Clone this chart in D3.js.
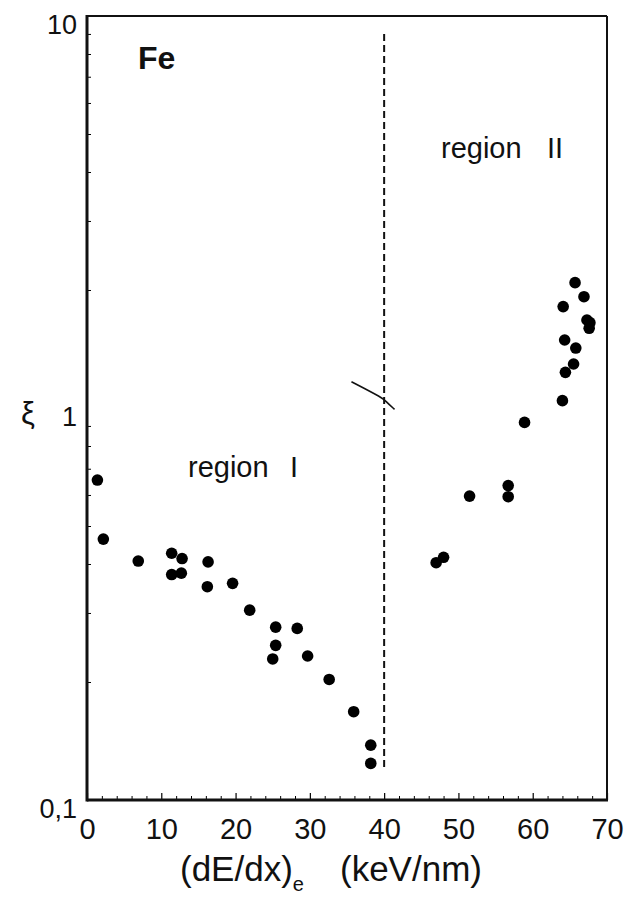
<!DOCTYPE html>
<html>
<head>
<meta charset="utf-8">
<script src="https://cdn.jsdelivr.net/npm/d3@7"></script>
<style>
  body { margin: 0; background: #fff; }
  text { font-family: "Liberation Sans", Arial, sans-serif; fill: #111; }
</style>
</head>
<body>
<script>
// values
var regionOneX = [1.4, 2.2, 6.9, 11.4, 12.8, 11.4, 12.7, 16.3, 16.2, 19.6, 21.9, 25.4, 28.3, 25.4, 25.0, 29.7, 32.6, 35.9, 38.2, 38.2];
var regionOneY = [0.655, 0.463, 0.407, 0.426, 0.413, 0.376, 0.379, 0.405, 0.350, 0.357, 0.305, 0.276, 0.274, 0.248, 0.229, 0.233, 0.203, 0.168, 0.138, 0.124];
var regionTwoX = [47.0, 48.0, 51.5, 56.7, 56.7, 58.9, 64.0, 64.4, 65.5, 64.3, 65.8, 64.1, 65.7, 66.9, 67.3, 67.7, 67.6];
var regionTwoY = [0.403, 0.416, 0.596, 0.634, 0.594, 0.919, 1.044, 1.233, 1.295, 1.491, 1.422, 1.814, 2.088, 1.923, 1.677, 1.651, 1.597];

var xTicks = [0, 10, 20, 30, 40, 50, 60, 70];
var yTicks = [0.1, 1, 10];
var yTickLabels = ["0,1", "1", "10"];

var dividerX = 40;
var dividerY = [9, 0.12];
var breakMarkX = [35.6, 39.9, 40.2, 41.4];
var breakMarkY = [1.167, 1.059, 1.04, 0.992];

var svgWidth = 629;
var svgHeight = 901;
var margin = {top: 16, right: 22, bottom: 101, left: 87};
var width = svgWidth - margin.left - margin.right;
var height = svgHeight - margin.top - margin.bottom;

var svg = d3.select("body")
  .append("svg")
  .attr("width", svgWidth)
  .attr("height", svgHeight);

var chartGroup = svg.append("g")
  .attr("transform", "translate(" + margin.left + "," + margin.top + ")");

var xScale = d3.scaleLinear().domain([0, 70]).range([0, width]);
var yScale = d3.scaleLog().domain([0.1, 10]).range([height, 0]);

// minor ticks (inside)
var xMinor = d3.range(0, 71, 2).filter(d => d % 10 != 0);
chartGroup.append("g")
  .attr("transform", `translate(0, ${height})`)
  .call(d3.axisBottom(xScale).tickValues(xMinor).tickSize(-4).tickFormat(""))
  .call(g => g.select(".domain").remove());

var yMinor = [];
[0.1, 1].forEach(function(dec) {
  for (var k = 2; k <= 9; k++) yMinor.push(dec * k);
});
chartGroup.append("g")
  .call(d3.axisLeft(yScale).tickValues(yMinor).tickSize(-4).tickFormat(""))
  .call(g => g.select(".domain").remove());

// major x axis
var xAxis = chartGroup.append("g")
  .attr("transform", `translate(0, ${height})`)
  .call(d3.axisBottom(xScale).tickValues(xTicks).tickSize(-7).tickPadding(18).tickFormat(d3.format("d")));
xAxis.select(".domain").remove();
xAxis.selectAll("text")
  .attr("font-size", "29px")
  .attr("font-family", "Liberation Sans, Arial, sans-serif")
  .attr("fill", "#111");
xAxis.selectAll("line").attr("stroke-width", 1.2);

// y axis labels
var yAxis = chartGroup.append("g")
  .call(d3.axisLeft(yScale).tickValues(yTicks).tickSize(0).tickPadding(10)
    .tickFormat((d, i) => yTickLabels[i]));
yAxis.select(".domain").remove();
yAxis.selectAll("text")
  .attr("dy", "17px")
  .attr("font-size", "27px")
  .attr("font-family", "Liberation Sans, Arial, sans-serif")
  .attr("fill", "#111");

// frame
chartGroup.append("line").attr("x1", 0).attr("x2", width).attr("y1", 0).attr("y2", 0)
  .attr("stroke", "#111").attr("stroke-width", 2);
chartGroup.append("line").attr("x1", width).attr("x2", width).attr("y1", 0).attr("y2", height)
  .attr("stroke", "#111").attr("stroke-width", 2);
chartGroup.append("line").attr("x1", 0).attr("x2", 0).attr("y1", -1).attr("y2", height + 1.5)
  .attr("stroke", "#111").attr("stroke-width", 3);
chartGroup.append("line").attr("x1", 0).attr("x2", width + 1).attr("y1", height).attr("y2", height)
  .attr("stroke", "#111").attr("stroke-width", 3);

// dashed divider
chartGroup.append("line")
  .attr("x1", xScale(dividerX)).attr("x2", xScale(dividerX))
  .attr("y1", yScale(dividerY[0])).attr("y2", yScale(dividerY[1]))
  .attr("stroke", "#111")
  .attr("stroke-width", 2)
  .attr("stroke-dasharray", "7,4");

// break mark
var markLine = d3.line()
  .x(d => xScale(d[0]))
  .y(d => yScale(d[1]))
  .curve(d3.curveBasis);
chartGroup.append("path")
  .datum(d3.zip(breakMarkX, breakMarkY))
  .attr("d", markLine)
  .attr("fill", "none")
  .attr("stroke", "#111")
  .attr("stroke-width", 1.6);

// points
var allPoints = d3.zip(regionOneX, regionOneY).concat(d3.zip(regionTwoX, regionTwoY));
chartGroup.selectAll("circle")
  .data(allPoints)
  .enter()
  .append("circle")
  .attr("cx", d => xScale(d[0]))
  .attr("cy", d => yScale(d[1]))
  .attr("r", 5.8)
  .attr("fill", "#000");

// labels
svg.append("text")
  .attr("x", 138)
  .attr("y", 69)
  .attr("font-size", "32px")
  .attr("font-weight", "bold")
  .text("Fe");

var reg1 = svg.append("text")
  .attr("y", 477)
  .attr("font-size", "29px");
reg1.append("tspan").attr("x", 188).text("region");
reg1.append("tspan").attr("x", 290).text("I");

var reg2 = svg.append("text")
  .attr("y", 158)
  .attr("font-size", "29px");
reg2.append("tspan").attr("x", 441).text("region");
reg2.append("tspan").attr("x", 547).text("II");

svg.append("text")
  .attr("x", 28)
  .attr("y", 424)
  .style("text-anchor", "middle")
  .attr("font-size", "31px")
  .attr("font-family", "DejaVu Sans, sans-serif")
  .text("ξ");

var xTitle = svg.append("text")
  .attr("x", 180)
  .attr("y", 881)
  .attr("font-size", "35px");
xTitle.append("tspan").text("(dE/dx)");
xTitle.append("tspan").attr("font-size", "20px").attr("dy", 10).text("e");
xTitle.append("tspan").attr("dy", -10).attr("x", 340).text("(keV/nm)");
</script>
</body>
</html>
